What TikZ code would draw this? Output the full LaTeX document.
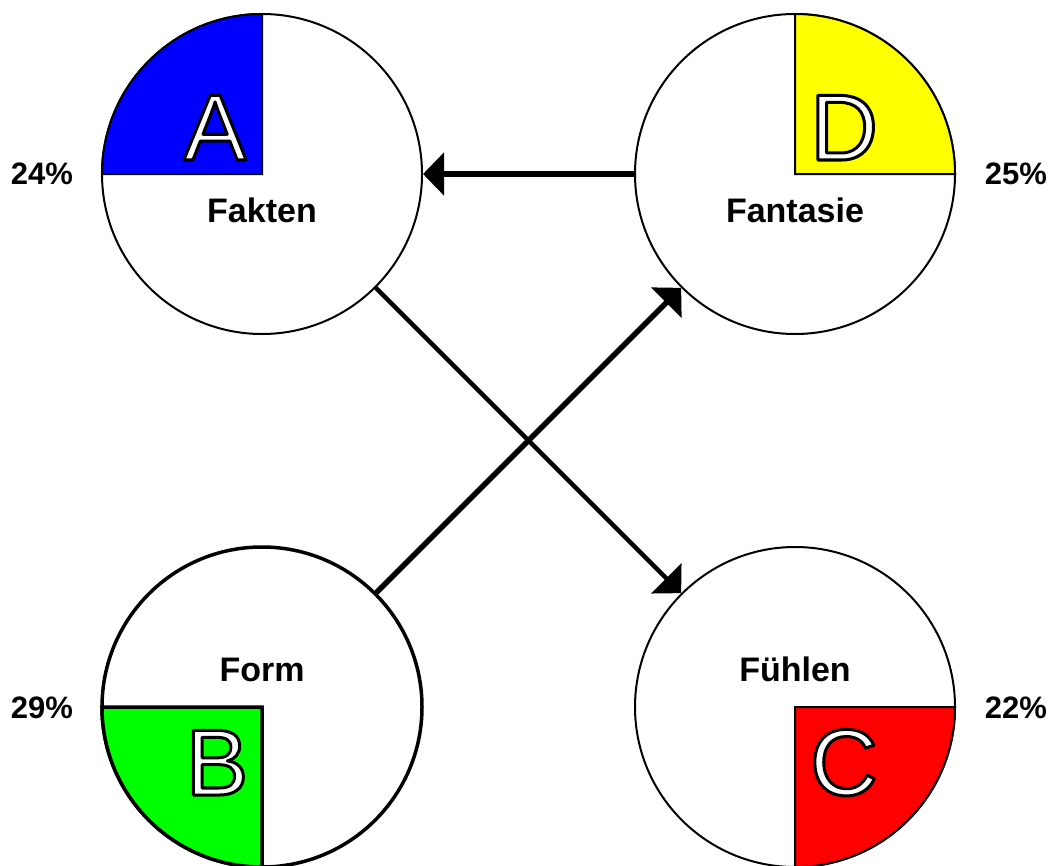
\documentclass[tikz,border=0pt]{standalone}
\usepackage{fontspec}
\setmainfont{Liberation Sans}
\usetikzlibrary{arrows.meta}
\definecolor{qblue}{RGB}{0,0,255}
\definecolor{qyellow}{RGB}{255,255,0}
\definecolor{qgreen}{RGB}{0,255,0}
\definecolor{qred}{RGB}{255,0,0}
\newcommand{\outlinetext}[1]{\leavevmode\textcolor{white}{%
  \special{pdf:literal direct 0 0 0 RG 3 w 1 j 2 Tr}#1\special{pdf:literal direct 0 Tr}}}
\begin{document}
\begin{tikzpicture}[x=1pt,y=1pt,
  circ/.style={circle,draw=black,line width=2pt,minimum size=320pt,inner sep=0pt,fill=white},
  quad/.style={draw=black,line width=2pt},
  bigletter/.style={font=\fontsize{94}{94}\selectfont,anchor=base,inner sep=0pt},
  lbl/.style={font=\fontsize{34}{34}\selectfont\bfseries,anchor=base,inner sep=0pt},
  pct/.style={font=\fontsize{31}{31}\selectfont\bfseries,anchor=base,inner sep=0pt},
  arr/.style={-{Triangle[length=21pt,width=42pt]},line width=5.5pt}]
\useasboundingbox (0,0) rectangle (1052,-865);
% circles
\node[circ] (fa) at (262,-174) {};
\node[circ] (fn) at (795,-174) {};
\node[circ,line width=3.5pt] (fo) at (262,-707) {};
\node[circ] (fu) at (795,-707) {};
% quadrants
\draw[quad,fill=qblue] (fa.center) -- ++(-160,0) arc[start angle=180,end angle=90,radius=160pt] -- cycle;
\draw[quad,fill=qyellow] (fn.center) -- ++(160,0) arc[start angle=0,end angle=90,radius=160pt] -- cycle;
\draw[quad,fill=qgreen,line width=3.5pt] (fo.center) -- ++(-160,0) arc[start angle=180,end angle=270,radius=160pt] -- cycle;
\draw[quad,fill=qred] (fu.center) -- ++(160,0) arc[start angle=0,end angle=-90,radius=160pt] -- cycle;
% big letters
\node[bigletter] (lA) at (215,-160) {\outlinetext{A}};
\node[bigletter] (lD) at (844,-160) {\outlinetext{D}};
\node[bigletter] (lB) at (217,-795) {\outlinetext{B}};
\node[bigletter] (lC) at (844,-795) {\outlinetext{C}};
% labels
\node[lbl] (tfa) at (262,-222) {Fakten};
\node[lbl] (tfn) at (795,-222) {Fantasie};
\node[lbl] (tfo) at (262,-681) {Form};
\node[lbl] (tfu) at (795,-681) {Fühlen};
% percentages
\node[pct] (p1) at (42,-184) {24\%};
\node[pct] (p2) at (1016,-184) {25\%};
\node[pct] (p3) at (42,-718) {29\%};
\node[pct] (p4) at (1016,-718) {22\%};
% arrows
\draw[arr] (fn.west) -- (fa.east);
\draw[arr,line width=4.5pt] (fa.-45) -- (fu.135);
\draw[arr] (fo.45) -- (fn.-135);
\end{tikzpicture}
\end{document}
